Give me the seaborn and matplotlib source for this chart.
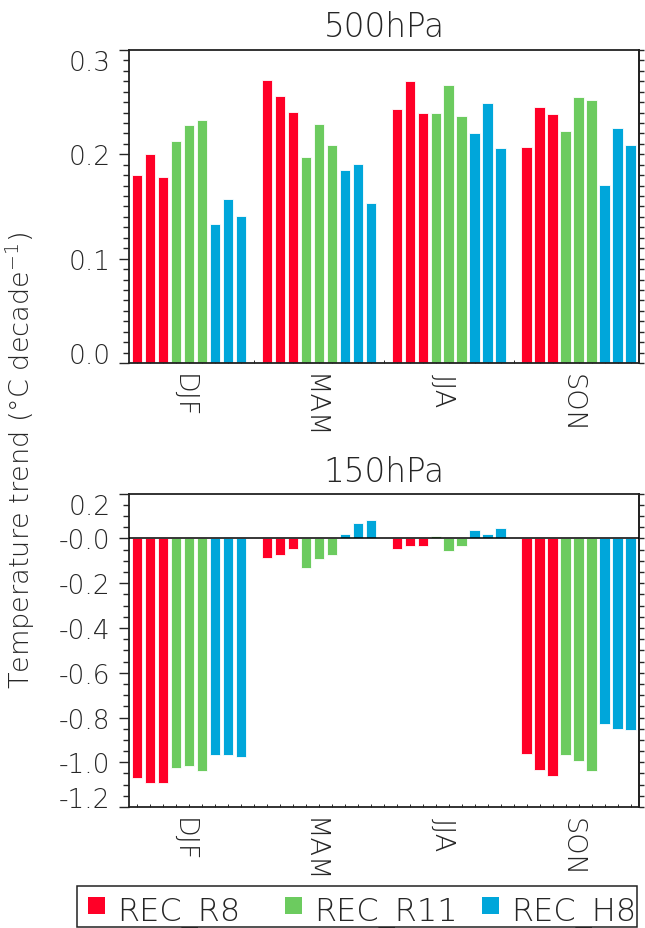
import numpy as np
import pandas as pd
import matplotlib
matplotlib.use("Agg")
import matplotlib.pyplot as plt
from matplotlib.patches import Rectangle
from matplotlib.ticker import MultipleLocator, FixedLocator
from matplotlib.transforms import ScaledTranslation
import seaborn as sns

# ---- data -------------------------------------------------------------
seasons = ["DJF", "MAM", "JJA", "SON"]
experiments = ["REC_R8", "REC_R11", "REC_H8"]
colors = ["#FF0027", "#6CCB5F", "#00A6DA"]
n_members = 3

# 500 hPa trends, three members per season (DJF, MAM, JJA, SON)
t500_r8 = [0.180, 0.200, 0.178, 0.271, 0.256, 0.241, 0.243, 0.270, 0.240, 0.207, 0.245, 0.239]
t500_r11 = [0.213, 0.228, 0.233, 0.197, 0.229, 0.209, 0.240, 0.266, 0.237, 0.222, 0.255, 0.252]
t500_h8 = [0.133, 0.157, 0.141, 0.185, 0.191, 0.153, 0.220, 0.249, 0.206, 0.171, 0.225, 0.209]

# 150 hPa trends
t150_r8 = [-1.072, -1.094, -1.094, -0.087, -0.072, -0.046, -0.048, -0.033, -0.033, -0.961, -1.033, -1.063]
t150_r11 = [-1.027, -1.016, -1.037, -0.130, -0.091, -0.073, 0.012, -0.057, -0.033, -0.967, -0.993, -1.040]
t150_h8 = [-0.967, -0.969, -0.978, 0.021, 0.070, 0.084, 0.037, 0.022, 0.045, -0.828, -0.852, -0.858]

yticks_500 = [0.0, 0.1, 0.2, 0.3]
yticklabels_500 = ["0.0", "0.1", "0.2", "0.3"]
yticks_150 = [0.2, 0.0, -0.2, -0.4, -0.6, -0.8, -1.0, -1.2]
yticklabels_150 = ["0.2", "-0.0", "-0.2", "-0.4", "-0.6", "-0.8", "-1.0", "-1.2"]


def to_frame(series):
    rows = []
    slot = len(experiments) * n_members + 1  # one empty slot between seasons
    for e, (name, vals) in enumerate(zip(experiments, series)):
        for k, v in enumerate(vals):
            s, m = divmod(k, n_members)
            rows.append({"pos": s * slot + e * n_members + m, "value": v,
                         "experiment": name})
    return pd.DataFrame(rows)


df500 = to_frame([t500_r8, t500_r11, t500_h8])
df150 = to_frame([t150_r8, t150_r11, t150_h8])

# ---- style ------------------------------------------------------------
sns.set_style("white")
plt.rcParams["font.family"] = ["DejaVu Sans"]
plt.rcParams["axes.unicode_minus"] = False
plt.rcParams["mathtext.fontset"] = "custom"
plt.rcParams["mathtext.rm"] = "DejaVu Sans:light"
plt.rcParams["mathtext.it"] = "DejaVu Sans:light"
plt.rcParams["mathtext.default"] = "rm"
FW = "light"

W, H = 645, 929
fig = plt.figure(figsize=(W / 100, H / 100), dpi=100)
ax1 = fig.add_axes([0.2, 0.6082, 0.7907, 0.3369])
ax2 = fig.add_axes([0.2, 0.1302, 0.7907, 0.3373])

slot = len(experiments) * n_members + 1
centers = [s * slot + (len(experiments) * n_members - 1) / 2 for s in range(len(seasons))]
all_slots = np.arange(len(seasons) * slot - 1)
label_shift = ScaledTranslation(-0.06, 0, fig.dpi_scale_trans)


def style_axis(ax, df, ylim, yticks, yticklabels, minor, title, pad):
    sns.barplot(data=df, x="pos", y="value", hue="experiment",
                hue_order=experiments, palette=colors, native_scale=True,
                dodge=False, width=0.8, saturation=1, errorbar=None,
                edgecolor="white", linewidth=0.6, legend=False, ax=ax)
    ax.set_xlim(-0.61, all_slots[-1] + 0.65)
    ax.set_ylim(*ylim)
    ax.set_xlabel("")
    ax.set_ylabel("")
    ax.set_title(title, fontsize=23.5, pad=pad, fontweight=FW)

    ax.xaxis.set_major_locator(FixedLocator(centers))
    ax.xaxis.set_minor_locator(FixedLocator(all_slots))
    ax.tick_params(axis="x", which="both", direction="in", length=2.5,
                   width=0.7, pad=7.5, bottom=True, top=False)
    xlabs = ax.set_xticklabels(seasons, rotation=-90, fontsize=19.5,
                               fontweight=FW, rotation_mode="anchor",
                               ha="left", va="center")
    # nudge the rotated season names so the letters sit on the tick
    for lab in xlabs:
        lab.set_transform(lab.get_transform() + label_shift)

    ax.yaxis.set_major_locator(FixedLocator(yticks))
    ax.yaxis.set_minor_locator(MultipleLocator(minor))
    ax.tick_params(axis="y", which="major", direction="out", length=7.2,
                   width=1.0, pad=6, left=True)
    ax.tick_params(axis="y", which="minor", direction="out", length=4.3,
                   width=1.0, left=True)
    ax.set_yticklabels(yticklabels, fontsize=19, fontweight=FW)
    # keep the end labels inside the axis range
    for val, lab in zip(yticks, ax.get_yticklabels()):
        if val == max(ylim):
            lab.set_va("top")
        elif val == min(ylim):
            lab.set_va("baseline")

    sec = ax.secondary_yaxis("right")
    sec.yaxis.set_major_locator(FixedLocator(yticks))
    sec.yaxis.set_minor_locator(MultipleLocator(minor))
    sec.tick_params(axis="y", which="both", direction="out", length=3.6,
                    width=1.0, labelright=False)
    sec.spines["right"].set_linewidth(1.3)
    sec.spines["right"].set_color("#222222")

    for sp in ax.spines.values():
        sp.set_linewidth(1.3)
        sp.set_color("#222222")


style_axis(ax1, df500, (0.0, 0.3), yticks_500, yticklabels_500, 0.01,
           "500hPa", 10)
style_axis(ax2, df150, (-1.2, 0.2), yticks_150, yticklabels_150, 0.05,
           "150hPa", 9)
ax2.axhline(0.0, color="black", linewidth=1.1, zorder=5)

fig.text(0.031, 0.504, r"Temperature trend (°C decade$^{-1}$)", rotation=90,
         ha="center", va="center", fontsize=19.5, fontweight=FW)


# ---- legend: three equal-width entries in a framed box -----------------
def px(x, y):
    """pixel position measured from the top-left corner -> figure fraction"""
    return x / W, 1 - y / H


box_l, box_t, box_r, box_b = 76.7, 886.7, 636.7, 928.0
x0, y0 = px(box_l, box_b)
fig.add_artist(Rectangle((x0, y0), (box_r - box_l) / W, (box_b - box_t) / H,
                         transform=fig.transFigure, facecolor="white",
                         edgecolor="#222222", linewidth=1.1))
col_w, sq = 197.0, 17.0
for k, (name, c) in enumerate(zip(experiments, colors)):
    sx = 88.0 + k * col_w
    fx, fy = px(sx, 915.0)
    fig.add_artist(Rectangle((fx, fy), sq / W, sq / H,
                             transform=fig.transFigure, facecolor=c,
                             edgecolor="none"))
    tx, ty = px(sx + 29.0, 920.5)
    fig.text(tx, ty, name, ha="left", va="baseline", fontsize=23,
             fontweight=FW)

fig.savefig("out.png", dpi=100, facecolor="white")
